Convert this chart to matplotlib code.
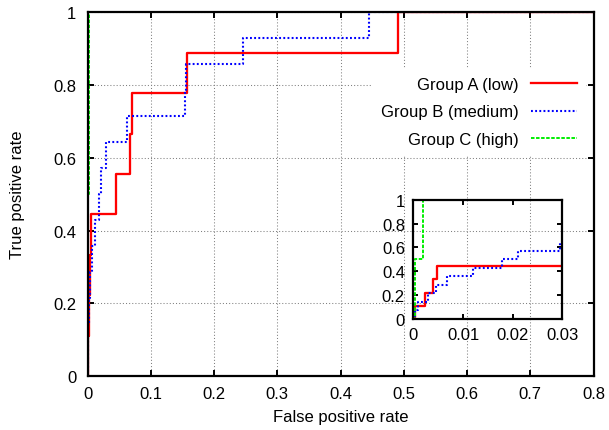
import numpy as np
import matplotlib
matplotlib.use("Agg")
import matplotlib.pyplot as plt
from matplotlib.ticker import FuncFormatter

plt.rcParams["font.family"] = "sans-serif"
plt.rcParams["font.sans-serif"] = ["Liberation Sans", "DejaVu Sans"]
plt.rcParams.update({
    "font.size": 12,
    "axes.linewidth": 1.6,
    "xtick.direction": "in",
    "ytick.direction": "in",
    "xtick.top": True,
    "ytick.right": True,
})

# ROC corner points (fpr where tpr steps up), drawn as steps-post
labels = ["Group A (low)", "Group B (medium)", "Group C (high)"]

fpr_a = [0, 0.00034, 0.0024, 0.0039, 0.0048, 0.045, 0.0672, 0.0709, 0.158, 0.4914, 1.0]
tpr_a = [0, 1/9, 2/9, 3/9, 4/9, 5/9, 6/9, 7/9, 8/9, 1.0, 1.0]

fpr_b = [0, 0.0004, 0.00095, 0.0030, 0.0046, 0.00685, 0.0120, 0.0179, 0.0211,
         0.0295, 0.0619, 0.154, 0.156, 0.246, 0.4455, 1.0]
tpr_b = [0, 1/14, 2/14, 3/14, 4/14, 5/14, 6/14, 7/14, 8/14,
         9/14, 10/14, 11/14, 12/14, 13/14, 1.0, 1.0]

fpr_c = [0, 0.0004, 0.00195, 1.0]
tpr_c = [0, 0.5, 1.0, 1.0]

main_xticks = [0, 0.1, 0.2, 0.3, 0.4, 0.5, 0.6, 0.7, 0.8]
main_yticks = [0, 0.2, 0.4, 0.6, 0.8, 1.0]
inset_xticks = [0, 0.01, 0.02, 0.03]
inset_yticks = [0, 0.2, 0.4, 0.6, 0.8, 1.0]

styles = [
    dict(color="#ff0000", lw=1.65, ls="-"),
    dict(color="#0000ff", lw=1.5, ls=(0, (0.9, 1.1))),
    dict(color="#00ee00", lw=1.4, ls=(0, (1.8, 0.8))),
]
curves = [(fpr_a, tpr_a), (fpr_b, tpr_b), (fpr_c, tpr_c)]

g = FuncFormatter(lambda v, p: f"{v:g}")

fig = plt.figure(figsize=(6.09, 4.31), dpi=100)
ax = fig.add_axes([0.1437, 0.1253, 0.8309, 0.8439])

for (x, y), lab, st in zip(curves, labels, styles):
    ax.plot(x, y, drawstyle="steps-post", label=lab, **st)

ax.set_xlim(0, 0.8)
ax.set_ylim(0, 1)
ax.set_xticks(main_xticks)
ax.set_yticks(main_yticks)
ax.xaxis.set_major_formatter(g)
ax.yaxis.set_major_formatter(g)
ax.tick_params(which="major", length=4.5, width=1.4, color="black")
ax.tick_params(axis="x", pad=7)
ax.tick_params(axis="y", pad=8)
ax.grid(True, color="#808080", lw=0.75, ls=(0, (1, 2)))
ax.set_axisbelow(True)

ax.set_xlabel("False positive rate")
ax.set_ylabel("True positive rate")
ax.xaxis.set_label_coords(0.5, -0.09)
ax.yaxis.set_label_coords(-0.124, 0.5)

leg = ax.legend(loc="upper right", bbox_to_anchor=(0.984, 0.8445), borderaxespad=0,
                markerfirst=False, handlelength=2.75, handletextpad=0.78,
                labelspacing=0.73, borderpad=0.5, fontsize=12,
                frameon=True, fancybox=False, framealpha=1,
                facecolor="white", edgecolor="white")
for t in leg.get_texts():
    t.set_ha("right")

# zoomed inset of the low-FPR region
ins = fig.add_axes([0.6787, 0.2575, 0.2447, 0.2768])
ins.patch.set_alpha(0)
for (x, y), st in zip(curves, styles):
    ins.plot(x, y, drawstyle="steps-post", **st)
ins.set_xlim(0, 0.03)
ins.set_ylim(0, 1)
ins.set_xticks(inset_xticks)
ins.set_yticks(inset_yticks)
ins.xaxis.set_major_formatter(g)
ins.yaxis.set_major_formatter(g)
ins.tick_params(which="major", length=3.5, width=1.4, color="black")
ins.tick_params(axis="x", pad=6)
ins.tick_params(axis="y", pad=6)
for s in ins.spines.values():
    s.set_linewidth(1.6)

fig.savefig("out.png", dpi=100)
